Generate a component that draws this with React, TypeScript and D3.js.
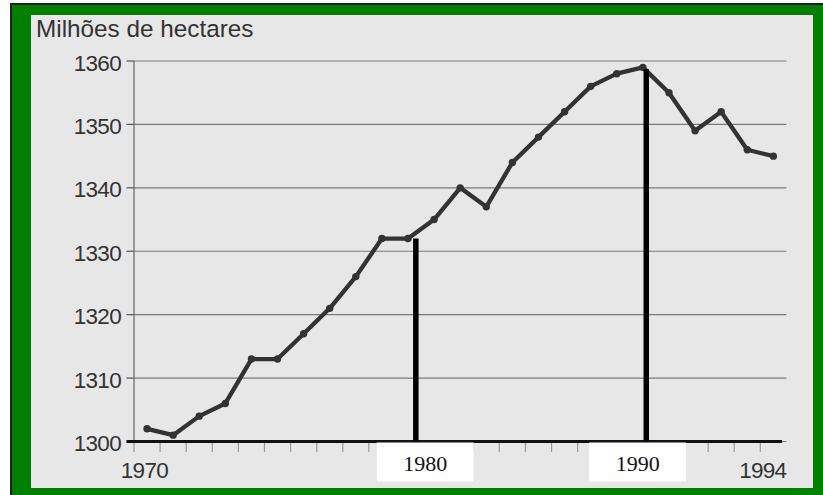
import React from "react";
import * as d3 from "d3";

const years: number[] = d3.range(1970, 1995);
const hectares: number[] = [
  1302, 1301, 1304, 1306, 1313, 1313, 1317, 1321, 1326, 1332,
  1332, 1335, 1340, 1337, 1344, 1348, 1352, 1356, 1358, 1359,
  1355, 1349, 1352, 1346, 1345,
];
const yTicks: number[] = [1300, 1310, 1320, 1330, 1340, 1350, 1360];
const xEdgeLabels = [
  { year: 1969.9, label: "1970", anchor: "middle" },
  { year: 1994.5, label: "1994", anchor: "end" },
];
const annotations = [
  { lineYear: 1980.3, labelYear: 1980.66, top: 1332, label: "1980" },
  { lineYear: 1989.13, labelYear: 1988.8, top: 1358.7, label: "1990" },
];
const title = "Milhões de hectares";

export default function App() {
  const W = 823;
  const H = 495;
  const x = d3.scaleLinear().domain([1969.5, 1994.5]).range([134, 786.4]);
  const y = d3.scaleLinear().domain([1300, 1360]).range([441.5, 61]);
  const data = years.map((yr, i) => ({ yr, v: hectares[i] }));
  const line = d3
    .line<{ yr: number; v: number }>()
    .x((d) => x(d.yr))
    .y((d) => y(d.v));
  const tickYears = years.map((yr) => yr - 0.5);
  const sans = "'Liberation Sans', Arial, sans-serif";
  const serif = "'Liberation Serif', 'Times New Roman', serif";
  const x0 = x.range()[0];
  const x1 = x.range()[1];

  return (
    <svg
      width={W}
      height={H}
      style={{ position: "absolute", left: 0, top: 0, background: "#fff" }}
    >
      {/* frame */}
      <rect x={10} y={3} width={W} height={H} fill="#222" />
      <rect x={12} y={5} width={W} height={H} fill="#008000" />
      <rect x={31} y={15} width={782} height={473} fill="#e7e7e7" />

      <text x={36} y={36.5} fontFamily={sans} fontSize={24.3} fill="#333">
        {title}
      </text>

      {/* grid */}
      {yTicks.map((t) => (
        <g key={t}>
          <line x1={x0} x2={x1} y1={y(t)} y2={y(t)} stroke="#7a7a7a" strokeWidth={1.2} />
          <line x1={126.5} x2={x0} y1={y(t)} y2={y(t)} stroke="#555" strokeWidth={1.2} />
          <text
            x={121}
            y={y(t) + 9.5}
            textAnchor="end"
            fontFamily={sans}
            fontSize={22.5}
            letterSpacing={-0.7}
            fill="#333"
          >
            {t}
          </text>
        </g>
      ))}
      <line x1={x0} x2={x0} y1={y(1360)} y2={y(1300)} stroke="#666" strokeWidth={1.2} />

      {/* x ticks */}
      {tickYears.map((t) => (
        <line key={t} x1={x(t)} x2={x(t)} y1={y(1300)} y2={y(1300) + 10.5} stroke="#999" strokeWidth={1.2} />
      ))}
      <line x1={126.5} x2={x(1994.33)} y1={y(1300)} y2={y(1300)} stroke="#111" strokeWidth={3} />

      {xEdgeLabels.map((l) => (
        <text
          key={l.label}
          x={x(l.year)}
          y={478}
          textAnchor={l.anchor}
          fontFamily={sans}
          fontSize={22.5}
          letterSpacing={-0.7}
          fill="#333"
        >
          {l.label}
        </text>
      ))}

      {/* data */}
      <path d={line(data) || ""} fill="none" stroke="#333" strokeWidth={4.3} strokeLinejoin="round" />
      {data.map((d) => (
        <circle key={d.yr} cx={x(d.yr)} cy={y(d.v)} r={3.7} fill="#333" />
      ))}

      {/* annotations */}
      {annotations.map((a) => (
        <g key={a.label}>
          <rect x={x(a.labelYear) - 48.5} y={y(1300) + 1} width={97} height={39} fill="#fff" />
          <line x1={x(a.lineYear)} x2={x(a.lineYear)} y1={y(a.top)} y2={y(1300) - 1} stroke="#000" strokeWidth={5.5} />
          <text
            x={x(a.labelYear)}
            y={470.5}
            textAnchor="middle"
            fontFamily={serif}
            fontSize={22}
            fill="#111"
          >
            {a.label}
          </text>
        </g>
      ))}
    </svg>
  );
}
